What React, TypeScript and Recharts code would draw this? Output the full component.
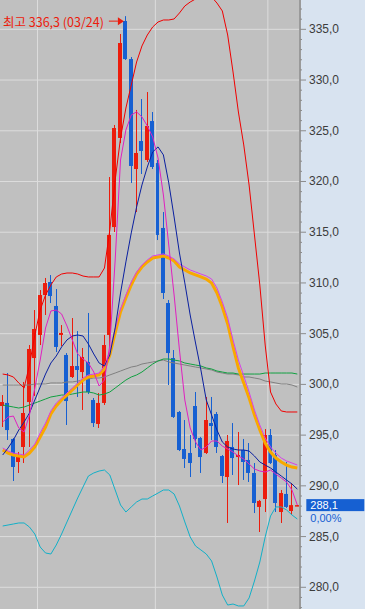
// Candlestick chart with moving averages and Bollinger bands (Recharts)
import { ComposedChart, Bar, Line, XAxis, YAxis, CartesianGrid, ReferenceLine, ReferenceDot } from 'recharts';

const opens = [297.87, 298.17, 294.62, 292.35, 293.83, 298.26, 302.6, 304.87, 308.81, 310.09, 307.73, 304.87, 302.9, 300.73, 301.81, 301.22, 302.21, 298.46, 296.1, 298.17, 304.87, 315.51, 324.29, 335.82, 332.07, 321.23, 323.99, 322.12, 325.96, 321.82, 315.42, 308.02, 302.6, 297.28, 293.63, 293.24, 297.87, 294.72, 293.24, 296.19, 297.08, 292.94, 290.87, 293.83, 292.84, 293.53, 292.55, 291.27, 287.92, 288.7, 295.01, 293.04, 287.42, 289.2, 287.52, 288.1];
const highs = [298.95, 301.12, 294.72, 293.34, 300.24, 303.88, 307.33, 309.3, 310.49, 310.78, 309.4, 305.85, 303.09, 306.54, 305.26, 303.59, 307.04, 298.66, 299.15, 304.87, 320.44, 325.57, 334.54, 336.3, 332.27, 327.05, 328.13, 328.82, 326.85, 322.12, 316.99, 308.32, 303.39, 297.38, 296.49, 295.01, 299.25, 294.82, 298.76, 298.76, 297.28, 293.04, 295.01, 296.19, 295.31, 294.62, 294.22, 292.25, 288.61, 295.6, 295.6, 293.53, 289.59, 292.35, 290.28, 288.1];
const lows = [295.8, 294.52, 290.48, 291.27, 292.25, 293.83, 298.86, 303.88, 306.84, 308.02, 303.19, 303.78, 296.0, 300.63, 298.76, 297.48, 299.05, 295.8, 295.7, 297.97, 303.69, 315.02, 323.79, 331.98, 319.85, 316.99, 320.74, 321.92, 321.23, 314.23, 308.42, 299.94, 296.69, 293.43, 291.76, 290.87, 293.73, 291.27, 293.14, 294.52, 293.24, 290.28, 286.34, 291.07, 290.08, 290.58, 290.38, 287.32, 285.45, 287.42, 292.15, 287.42, 286.34, 287.82, 287.13, 288.1];
const closes = [298.26, 295.5, 291.86, 292.84, 297.18, 303.49, 305.46, 308.81, 309.99, 308.71, 303.69, 305.07, 298.36, 301.81, 301.42, 302.7, 299.25, 296.19, 298.17, 303.88, 314.73, 325.27, 333.65, 332.07, 321.53, 322.81, 323.01, 325.47, 321.43, 314.73, 309.01, 303.09, 296.79, 293.53, 292.65, 292.25, 294.62, 292.84, 296.49, 295.9, 293.83, 290.97, 294.42, 292.74, 293.04, 292.35, 291.27, 288.31, 288.51, 295.01, 292.25, 288.31, 289.29, 287.92, 288.1, 288.1];

const ma5 = [296.29, 296.78, 296.88, 295.7, 295.3, 296.98, 299.64, 302.4, 305.56, 307.24, 307.33, 306.94, 305.76, 304.38, 303.0, 302.5, 302.11, 301.22, 299.84, 300.43, 303.88, 312.26, 322.12, 325.08, 326.56, 326.86, 326.36, 325.48, 324.39, 322.32, 318.67, 313.74, 308.81, 303.39, 298.46, 295.7, 294.32, 293.53, 293.83, 294.42, 294.42, 293.92, 293.63, 293.33, 292.94, 292.64, 292.15, 291.66, 291.46, 291.36, 291.56, 291.16, 290.77, 290.37, 289.59, 288.11];
const ma10 = [293.04, 293.73, 294.52, 295.5, 296.29, 297.18, 298.46, 299.74, 301.02, 302.11, 302.8, 303.69, 304.38, 304.77, 304.87, 304.77, 303.98, 303.0, 302.11, 301.81, 302.9, 305.56, 309.01, 312.07, 314.93, 317.49, 319.66, 321.43, 322.91, 323.41, 322.62, 319.86, 316.5, 312.95, 310.0, 306.84, 304.08, 301.42, 298.46, 296.98, 295.5, 294.32, 293.83, 293.63, 293.53, 293.53, 293.43, 292.94, 292.35, 292.05, 291.76, 291.36, 290.97, 290.57, 290.18, 289.68];
const ma20 = [293.53, 293.23, 293.04, 292.94, 292.84, 293.23, 293.83, 294.81, 295.8, 297.08, 297.87, 298.46, 298.95, 299.45, 299.94, 300.43, 300.73, 300.83, 300.93, 301.52, 302.9, 305.07, 307.14, 308.52, 309.8, 310.88, 311.57, 312.07, 312.46, 312.56, 312.66, 312.46, 312.17, 311.57, 311.28, 310.98, 310.79, 310.59, 310.39, 310.0, 309.01, 307.63, 305.95, 303.69, 301.62, 300.14, 298.66, 296.98, 295.5, 294.22, 293.33, 292.74, 292.35, 292.05, 291.85, 291.76];
const bbMid = [293.73, 293.43, 293.23, 293.14, 293.04, 293.53, 294.12, 295.21, 296.19, 297.38, 298.16, 298.66, 299.15, 299.64, 300.14, 300.63, 300.93, 301.02, 301.12, 301.81, 303.29, 305.46, 307.43, 308.81, 310.09, 311.08, 311.77, 312.26, 312.66, 312.76, 312.86, 312.66, 312.36, 311.87, 311.57, 311.28, 311.08, 310.88, 310.69, 310.39, 309.5, 308.12, 306.55, 304.38, 302.4, 300.83, 299.25, 297.47, 295.99, 294.71, 293.83, 293.23, 292.74, 292.45, 292.25, 292.05];
const ma60 = [297.97, 297.87, 297.77, 297.67, 297.77, 297.97, 298.16, 298.36, 298.56, 298.76, 298.85, 298.95, 298.95, 299.05, 299.15, 299.25, 299.25, 299.15, 298.95, 299.05, 299.25, 299.64, 300.04, 300.43, 300.73, 300.93, 301.22, 301.62, 302.01, 302.31, 302.5, 302.5, 302.4, 302.31, 302.11, 302.01, 301.91, 301.81, 301.62, 301.52, 301.32, 301.22, 301.12, 301.12, 301.02, 301.02, 301.02, 301.02, 301.02, 301.12, 301.12, 301.12, 301.12, 301.12, 301.12, 301.02];
const ma120 = [299.94, 299.94, 299.94, 299.94, 299.94, 299.94, 300.04, 300.04, 300.04, 300.14, 300.14, 300.14, 300.24, 300.24, 300.33, 300.43, 300.53, 300.63, 300.63, 300.73, 300.93, 301.12, 301.32, 301.52, 301.71, 301.81, 302.01, 302.11, 302.21, 302.31, 302.4, 302.21, 302.11, 302.01, 301.91, 301.81, 301.71, 301.62, 301.52, 301.42, 301.22, 301.12, 301.02, 301.02, 300.93, 300.73, 300.73, 300.63, 300.53, 300.33, 300.24, 300.14, 300.04, 300.04, 299.94, 299.74];
const bbUpper = [301.02, 300.93, 300.73, 300.14, 299.64, 301.91, 304.87, 307.33, 308.81, 309.8, 310.59, 310.88, 310.98, 310.98, 310.88, 310.68, 310.59, 310.59, 310.59, 311.47, 315.22, 320.15, 324.29, 327.24, 329.51, 331.78, 333.36, 334.44, 335.23, 335.72, 335.92, 335.92, 336.02, 336.61, 337.3, 337.69, 337.99, 338.48, 338.58, 338.19, 337.59, 336.81, 334.44, 330.79, 326.85, 323.6, 319.65, 314.73, 309.8, 303.88, 299.25, 298.07, 297.38, 297.28, 297.28, 297.28];
const bbLower = [286.04, 286.14, 286.24, 286.34, 286.34, 285.94, 285.25, 283.97, 283.38, 283.28, 284.17, 285.25, 286.44, 287.62, 288.8, 289.89, 290.97, 291.27, 291.46, 291.56, 291.07, 289.59, 288.11, 287.42, 287.92, 288.41, 288.7, 288.7, 289.0, 289.29, 289.59, 289.59, 289.2, 288.01, 286.44, 284.96, 284.07, 283.68, 283.28, 282.59, 281.01, 279.24, 278.25, 278.35, 278.16, 278.16, 278.95, 280.62, 282.49, 284.96, 287.03, 287.92, 287.92, 287.62, 287.13, 286.73];

// month boundaries (index of first candle) and axis values
const monthStarts = [7, 29, 50];
const gridTicks = [280, 285, 290, 295, 300, 305, 310, 315, 320, 325, 330, 335];
const allTicks = Array.from({ length: 60 }, (_, k) => 278 + k);
const highIndex = 23;
const highLabel = '최고 336,3 (03/24)';
const lastPrice = 288.1;
const lastChange = '0,00%';

const RED = '#ec1c0c';
const BLUE = '#1660d2';

const rows = opens.map((o, i) => ({
  i,
  open: o,
  high: highs[i],
  low: lows[i],
  close: closes[i],
  ma5: ma5[i],
  ma10: ma10[i],
  ma20: ma20[i],
  bbMid: bbMid[i],
  ma60: ma60[i],
  ma120: ma120[i],
  bbUpper: bbUpper[i],
  bbLower: bbLower[i],
}));

const fmt = (v: number) => v.toFixed(1).replace('.', ',');

function Candle(props: any) {
  const { x, y, width, height, payload } = props;
  const { open, close, high, low } = payload;
  const color = close >= open ? RED : BLUE;
  const top = Math.min(y, y + height);
  const h = Math.abs(height);
  const range = high - low;
  const toY = (v: number) => (range === 0 ? top : top + ((high - v) / range) * h);
  const cx = Math.round(x + width / 2);
  const bTop = toY(Math.max(open, close));
  const bBot = toY(Math.min(open, close));
  return (
    <g>
      <rect x={cx - 1} y={top} width={1} height={Math.max(h, 1)} fill={color} />
      <rect x={cx - 3} y={bTop} width={4} height={Math.max(bBot - bTop, 1.5)} fill={color} />
    </g>
  );
}

function AxisTick(props: any) {
  const { x, y, payload } = props;
  const v = payload.value;
  const major = v % 5 === 0;
  return (
    <g>
      <line x1={x} x2={x + (major ? 6 : 2)} y1={y} y2={y} stroke="#8c8c8c" />
      {major && (
        <text x={x + 9} y={y} dominantBaseline="central" fontSize={12} fontFamily="Liberation Sans, Arial" fill="#3c3c3c">
          {fmt(v)}
        </text>
      )}
    </g>
  );
}

function HighMark(props: any) {
  const { cx, cy } = props;
  const ay = cy + 5;
  return (
    <g>
      <text x={cx - 22} y={ay} textAnchor="end" dominantBaseline="central" fontSize={12.5} fontFamily="Noto Sans CJK KR" fill={RED}>
        {highLabel}
      </text>
      <line x1={cx - 17} x2={cx - 8} y1={ay} y2={ay} stroke={RED} />
      <polygon points={`${cx - 8},${ay - 4} ${cx - 2},${ay} ${cx - 8},${ay + 4}`} fill={RED} />
    </g>
  );
}

function PriceBox(props: any) {
  const { cx, cy } = props;
  return (
    <g>
      <rect x={cx + 9} y={cy - 6} width={58} height={12} fill="#1660d2" />
      <text x={cx + 13} y={cy} dominantBaseline="central" fontSize={11} fontFamily="Liberation Sans, Arial" fill="#ffffff">
        {fmt(lastPrice)}
      </text>
      <text x={cx + 13} y={cy + 13} dominantBaseline="central" fontSize={11} fontFamily="Liberation Sans, Arial" fill="#1660d2">
        {lastChange}
      </text>
    </g>
  );
}

const lineProps = { dot: false, activeDot: false, isAnimationActive: false, strokeWidth: 1 } as const;

export default function App() {
  return (
    <div style={{ width: 365, height: 609, background: '#d8e3f0' }}>
      <style>{'body{margin:0}'}</style>
      <ComposedChart width={365} height={609} data={rows} margin={{ top: 0, right: 0, bottom: 0, left: 0 }}>
        <CartesianGrid fill="#c0c0c0" vertical={false} horizontalValues={gridTicks} stroke="#dcdcdc" strokeWidth={1} />
        <XAxis dataKey="i" type="category" hide />
        <YAxis
          orientation="right"
          width={65}
          domain={[277.86, 337.89]}
          allowDataOverflow
          ticks={allTicks}
          interval={0}
          tickSize={0}
          tickMargin={0}
          tickLine={false}
          axisLine={{ stroke: '#9a9a9a', strokeWidth: 2 }}
          tick={<AxisTick />}
        />
        {monthStarts.map((m) => (
          <ReferenceLine key={m} x={m} position="start" stroke="#dcdcdc" strokeWidth={1} />
        ))}
        <Bar dataKey={(d: any) => [d.low, d.high]} barSize={4} shape={<Candle />} activeBar={false} isAnimationActive={false} />
        <Line dataKey="ma120" stroke="#808080" {...lineProps} />
        <Line dataKey="ma60" stroke="#10a040" {...lineProps} />
        <Line dataKey="bbLower" stroke="#12b0c8" {...lineProps} />
        <Line dataKey="bbUpper" stroke="#f00000" {...lineProps} />
        <Line dataKey="ma20" stroke="#f8a800" {...lineProps} strokeWidth={3} />
        <Line dataKey="bbMid" stroke="#d840e8" {...lineProps} />
        <Line dataKey="ma10" stroke="#0a20a0" {...lineProps} />
        <Line dataKey="ma5" stroke="#e020c0" {...lineProps} />
        <ReferenceDot x={highIndex} y={highs[highIndex]} r={0} shape={(p: any) => <HighMark {...p} />} />
        <ReferenceDot x={rows.length - 1} y={lastPrice} r={0} shape={(p: any) => <PriceBox {...p} />} />
      </ComposedChart>
    </div>
  );
}
